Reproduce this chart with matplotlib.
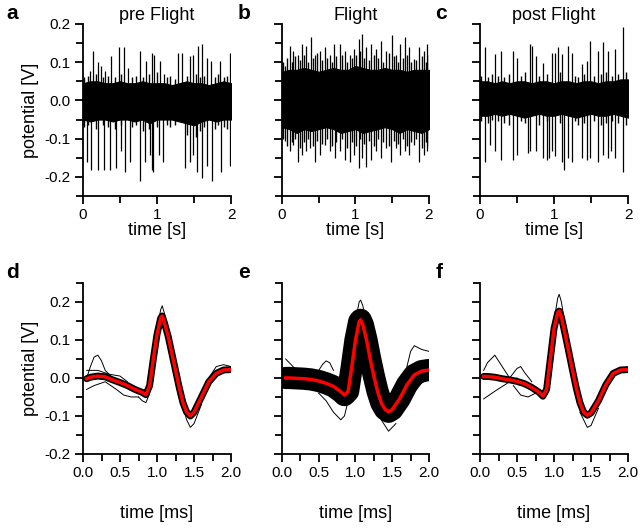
import matplotlib
matplotlib.use('Agg')
import matplotlib.pyplot as plt
from matplotlib.ticker import FixedLocator

plt.rcParams['font.family'] = ['Liberation Sans', 'DejaVu Sans']

# ---- raw traces: noise band envelope (every 0.1 s) + spike tips ----
env_t = [0.0, 0.1, 0.2, 0.3, 0.4, 0.5, 0.6, 0.7, 0.8, 0.9, 1.0,
         1.1, 1.2, 1.3, 1.4, 1.5, 1.6, 1.7, 1.8, 1.9, 2.0]

a_upper = [0.045, 0.05, 0.05, 0.045, 0.045, 0.05, 0.045, 0.045, 0.05, 0.045, 0.045,
           0.045, 0.04, 0.045, 0.05, 0.045, 0.045, 0.04, 0.045, 0.05, 0.045]
a_lower = [-0.05, -0.055, -0.05, -0.05, -0.055, -0.05, -0.05, -0.055, -0.05, -0.06, -0.05,
           -0.05, -0.05, -0.055, -0.06, -0.065, -0.055, -0.05, -0.055, -0.05, -0.05]
a_up_t = [0.095, 0.14, 0.20, 0.24, 0.30, 0.38, 0.48, 0.55, 0.61, 0.77, 0.85, 0.93, 0.96,
          1.04, 1.09, 1.29, 1.34, 1.45, 1.49, 1.56, 1.61, 1.67, 1.73, 1.85, 1.99]
a_up_v = [0.077, 0.13, 0.10, 0.09, 0.077, 0.117, 0.139, 0.139, 0.086, 0.13, 0.104, 0.125, 0.12,
          0.104, 0.068, 0.125, 0.125, 0.117, 0.12, 0.143, 0.147, 0.112, 0.104, 0.104, 0.125]
a_dn_t = [0.05, 0.11, 0.20, 0.29, 0.37, 0.45, 0.52, 0.57, 0.635, 0.77, 0.84, 0.905, 0.937,
          0.95, 1.02, 1.085, 1.38, 1.45, 1.49, 1.54, 1.61, 1.67, 1.74, 1.87, 1.99]
a_dn_v = [-0.16, -0.182, -0.182, -0.182, -0.182, -0.177, -0.133, -0.186, -0.16, -0.212, -0.16,
          -0.142, -0.182, -0.186, -0.142, -0.16, -0.177, -0.16, -0.142, -0.186, -0.204, -0.172,
          -0.212, -0.186, -0.172]
# small noise excursions just above / below the band
a_small_t = [0.02, 0.07, 0.17, 0.27, 0.34, 0.43, 0.51, 0.66, 0.72, 0.81, 0.89, 1.0, 1.13,
             1.18, 1.24, 1.4, 1.52, 1.58, 1.64, 1.78, 1.82, 1.91, 1.95]
a_small_up = [0.06, 0.065, 0.07, 0.06, 0.065, 0.06, 0.07, 0.06, 0.065, 0.06, 0.07, 0.075, 0.06,
              0.065, 0.055, 0.065, 0.07, 0.06, 0.065, 0.06, 0.07, 0.06, 0.065]
a_small_dn = [-0.07, -0.065, -0.075, -0.065, -0.07, -0.075, -0.065, -0.07, -0.065, -0.08, -0.075,
              -0.07, -0.065, -0.07, -0.065, -0.09, -0.095, -0.08, -0.07, -0.075, -0.065, -0.07,
              -0.075]

b_upper = [0.075, 0.08, 0.08, 0.085, 0.08, 0.075, 0.08, 0.085, 0.08, 0.08, 0.09,
           0.085, 0.08, 0.08, 0.085, 0.08, 0.08, 0.075, 0.08, 0.08, 0.08]
b_lower = [-0.07, -0.075, -0.085, -0.075, -0.08, -0.075, -0.07, -0.075, -0.085, -0.08, -0.075,
           -0.085, -0.08, -0.075, -0.07, -0.075, -0.085, -0.075, -0.08, -0.085, -0.075]
b_up_t = [0.04, 0.108, 0.153, 0.212, 0.266, 0.333, 0.392, 0.446, 0.514, 0.581, 0.649, 0.707,
          0.784, 0.851, 0.919, 0.986, 1.041, 1.086, 1.144, 1.212, 1.279, 1.347, 1.414, 1.491,
          1.55, 1.608, 1.671, 1.73, 1.797, 1.865, 1.932, 1.977]
b_up_v = [0.09, 0.143, 0.13, 0.12, 0.147, 0.143, 0.165, 0.12, 0.13, 0.139, 0.12, 0.147,
          0.147, 0.13, 0.12, 0.134, 0.16, 0.175, 0.139, 0.147, 0.134, 0.156, 0.13, 0.17,
          0.12, 0.147, 0.165, 0.139, 0.109, 0.139, 0.13, 0.147]
b_dn_t = [0.04, 0.108, 0.153, 0.212, 0.266, 0.333, 0.378, 0.446, 0.514, 0.581, 0.649, 0.716,
          0.784, 0.851, 0.919, 0.986, 1.041, 1.086, 1.144, 1.212, 1.279, 1.347, 1.414, 1.482,
          1.55, 1.608, 1.671, 1.73, 1.797, 1.865, 1.932, 1.977]
b_dn_v = [-0.107, -0.133, -0.116, -0.16, -0.142, -0.133, -0.124, -0.16, -0.142, -0.116, -0.133,
          -0.151, -0.133, -0.155, -0.16, -0.142, -0.177, -0.151, -0.173, -0.155, -0.133, -0.151,
          -0.124, -0.16, -0.124, -0.142, -0.133, -0.142, -0.116, -0.16, -0.142, -0.133]
b_small_t = [0.01, 0.07, 0.13, 0.18, 0.24, 0.3, 0.36, 0.42, 0.48, 0.55, 0.61, 0.68, 0.74,
             0.82, 0.88, 0.95, 1.01, 1.06, 1.12, 1.18, 1.25, 1.31, 1.38, 1.45, 1.52, 1.58,
             1.64, 1.7, 1.76, 1.83, 1.9, 1.96, 1.995]
b_small_up = [0.1, 0.11, 0.1, 0.115, 0.105, 0.12, 0.1, 0.11, 0.125, 0.105, 0.11, 0.1, 0.115,
              0.12, 0.1, 0.11, 0.12, 0.13, 0.11, 0.105, 0.12, 0.11, 0.1, 0.125, 0.115, 0.1,
              0.11, 0.12, 0.1, 0.105, 0.115, 0.1, 0.12]
b_small_dn = [-0.1, -0.12, -0.11, -0.1, -0.125, -0.11, -0.1, -0.12, -0.105, -0.115, -0.1, -0.12,
              -0.11, -0.1, -0.125, -0.11, -0.12, -0.1, -0.115, -0.105, -0.12, -0.1, -0.11, -0.12,
              -0.105, -0.115, -0.1, -0.12, -0.11, -0.1, -0.125, -0.11, -0.12]

c_upper = [0.05, 0.05, 0.045, 0.05, 0.045, 0.05, 0.05, 0.045, 0.05, 0.05, 0.045,
           0.05, 0.05, 0.045, 0.05, 0.05, 0.045, 0.05, 0.05, 0.055, 0.055]
c_lower = [-0.04, -0.04, -0.035, -0.04, -0.035, -0.04, -0.045, -0.04, -0.035, -0.04, -0.04,
           -0.035, -0.04, -0.045, -0.04, -0.035, -0.04, -0.04, -0.035, -0.04, -0.045]
c_up_t = [0.068, 0.203, 0.284, 0.45, 0.495, 0.676, 0.707, 0.757, 0.856, 0.968, 1.014, 1.05,
          1.104, 1.185, 1.239, 1.374, 1.441, 1.486, 1.59, 1.667, 1.734, 1.824, 1.937]
c_up_v = [0.139, 0.121, 0.13, 0.13, 0.112, 0.147, 0.143, 0.117, 0.099, 0.125, 0.125, 0.139,
          0.121, 0.143, 0.125, 0.095, 0.104, 0.156, 0.13, 0.152, 0.13, 0.134, 0.191]
c_dn_t = [0.068, 0.135, 0.203, 0.284, 0.45, 0.495, 0.653, 0.676, 0.757, 0.856, 0.9, 0.932,
          0.968, 1.014, 1.104, 1.14, 1.185, 1.239, 1.374, 1.441, 1.486, 1.59, 1.667, 1.725,
          1.77, 1.824, 1.937]
c_dn_v = [-0.16, -0.116, -0.133, -0.155, -0.155, -0.142, -0.138, -0.133, -0.133, -0.151, -0.155,
          -0.151, -0.133, -0.146, -0.16, -0.182, -0.151, -0.16, -0.151, -0.155, -0.151, -0.16,
          -0.142, -0.151, -0.133, -0.151, -0.186]
c_small_t = [0.02, 0.11, 0.16, 0.24, 0.33, 0.39, 0.55, 0.61, 0.8, 0.9, 1.08, 1.29, 1.33,
             1.41, 1.54, 1.63, 1.7, 1.79, 1.87, 1.97]
c_small_up = [0.065, 0.06, 0.07, 0.065, 0.06, 0.07, 0.065, 0.075, 0.065, 0.07, 0.075, 0.065,
              0.06, 0.07, 0.065, 0.07, 0.075, 0.065, 0.07, 0.075]
c_small_dn = [-0.055, -0.06, -0.05, -0.055, -0.06, -0.065, -0.055, -0.06, -0.065, -0.055, -0.06,
              -0.055, -0.065, -0.06, -0.055, -0.065, -0.06, -0.055, -0.06, -0.065]

# ---- spike waveforms (ms) ----
wf_t = [0.05, 0.1, 0.2, 0.3, 0.4, 0.5, 0.6, 0.7, 0.8, 0.85, 0.9, 0.95, 1.0, 1.05, 1.07,
        1.1, 1.15, 1.2, 1.25, 1.3, 1.35, 1.4, 1.45, 1.5, 1.6, 1.7, 1.8, 1.9, 2.0]
d_mean = [-0.002, 0.002, 0.005, 0.003, -0.005, -0.012, -0.02, -0.03, -0.038, -0.044, -0.02, 0.05,
          0.115, 0.158, 0.163, 0.145, 0.11, 0.065, 0.02, -0.025, -0.065, -0.09, -0.1, -0.09,
          -0.05, -0.01, 0.012, 0.021, 0.022]
e_mean = [0.0, 0.0, -0.001, -0.002, -0.004, -0.008, -0.014, -0.022, -0.036, -0.045, -0.035, 0.03,
          0.1, 0.148, 0.153, 0.14, 0.1, 0.05, 0.005, -0.035, -0.065, -0.082, -0.089, -0.083,
          -0.055, -0.018, 0.008, 0.018, 0.021]
f_mean = [0.004, 0.004, 0.002, -0.002, -0.005, -0.009, -0.015, -0.025, -0.038, -0.048, -0.03, 0.05,
          0.13, 0.172, 0.176, 0.16, 0.115, 0.068, 0.02, -0.026, -0.065, -0.09, -0.098, -0.092,
          -0.06, -0.018, 0.012, 0.021, 0.022]

# single stray sweeps that stick out of the bundle: (times, values)
d_stray = [([0.05, 0.1, 0.15, 0.2, 0.25, 0.3, 0.4], [0.0, 0.03, 0.055, 0.06, 0.045, 0.02, 0.0]),
           ([0.05, 0.15, 0.3, 0.45, 0.55, 0.65, 0.75], [-0.03, -0.02, -0.01, -0.03, -0.045, -0.05, -0.05]),
           ([0.05, 0.2, 0.35, 0.5, 0.6], [0.02, 0.02, 0.01, 0.005, -0.01]),
           ([1.0, 1.05, 1.07, 1.1, 1.15], [0.13, 0.18, 0.19, 0.17, 0.12]),
           ([1.3, 1.4, 1.45, 1.5, 1.6], [-0.04, -0.11, -0.13, -0.12, -0.07]),
           ([0.75, 0.8, 0.85, 0.9], [-0.05, -0.06, -0.065, -0.04]),
           ([1.7, 1.8, 1.9, 2.0], [0.0, 0.03, 0.035, 0.03])]
e_stray = [([0.05, 0.1, 0.2, 0.3], [0.05, 0.04, 0.02, 0.01]),
           ([0.5, 0.6, 0.7, 0.8, 0.85, 0.9], [-0.04, -0.06, -0.09, -0.11, -0.1, -0.06]),
           ([0.5, 0.55, 0.6, 0.65, 0.7], [0.02, 0.035, 0.045, 0.04, 0.02]),
           ([1.0, 1.05, 1.07, 1.1, 1.15], [0.15, 0.2, 0.205, 0.19, 0.14]),
           ([1.35, 1.45, 1.55], [-0.11, -0.14, -0.12]),
           ([1.7, 1.75, 1.8, 1.85, 1.9, 2.0], [0.03, 0.07, 0.085, 0.08, 0.075, 0.07])]
f_stray = [([0.05, 0.1, 0.2, 0.3, 0.4], [0.02, 0.04, 0.06, 0.03, 0.0]),
           ([0.05, 0.2, 0.4, 0.5], [-0.055, -0.035, -0.01, 0.0]),
           ([0.4, 0.5, 0.55, 0.6, 0.7], [0.0, 0.025, 0.03, 0.015, -0.01]),
           ([0.45, 0.55, 0.65, 0.75], [-0.02, -0.045, -0.05, -0.04]),
           ([1.0, 1.05, 1.07, 1.1, 1.15], [0.15, 0.21, 0.22, 0.2, 0.14]),
           ([1.35, 1.45, 1.5, 1.6], [-0.09, -0.13, -0.125, -0.08])]

titles = ['pre Flight', 'Flight', 'post Flight']
letters = ['a', 'b', 'c', 'd', 'e', 'f']

fig = plt.figure(figsize=(6.4, 5.28), dpi=100)
lefts = [0.1297, 0.4406, 0.75]
widths = [0.2313, 0.2297, 0.2313]


def style(ax):
    for s in ['top', 'right']:
        ax.spines[s].set_visible(False)
    for s in ['left', 'bottom']:
        ax.spines[s].set_linewidth(1.3)
    ax.tick_params(which='major', direction='out', length=5.5, width=1.3, labelsize=11)
    ax.tick_params(which='minor', direction='out', length=5, width=1.3)


raw = [(a_upper, a_lower, a_up_t, a_up_v, a_dn_t, a_dn_v, a_small_t, a_small_up, a_small_dn),
       (b_upper, b_lower, b_up_t, b_up_v, b_dn_t, b_dn_v, b_small_t, b_small_up, b_small_dn),
       (c_upper, c_lower, c_up_t, c_up_v, c_dn_t, c_dn_v, c_small_t, c_small_up, c_small_dn)]

for i, (up, lo, ut, uv, dt, dv, st, su, sd) in enumerate(raw):
    ax = fig.add_axes([lefts[i], 0.6288, widths[i], 0.3258])
    ax.fill_between(env_t, lo, up, color='black', lw=0.8)
    ax.vlines(st, sd, su, color='black', lw=1.0)
    ax.vlines(ut, 0, uv, color='black', lw=0.9)
    ax.vlines(dt, dv, 0, color='black', lw=0.9)
    ax.set_xlim(0, 2)
    ax.set_ylim(-0.25, 0.2)
    ax.xaxis.set_major_locator(FixedLocator([0, 1, 2]))
    ax.xaxis.set_minor_locator(FixedLocator([0.5, 1.5]))
    ax.yaxis.set_major_locator(FixedLocator([-0.2, -0.1, 0.0, 0.1, 0.2]))
    ax.yaxis.set_minor_locator(FixedLocator([-0.25, -0.15, -0.05, 0.05, 0.15]))
    style(ax)
    ax.set_xticklabels(['0', '1', '2'])
    if i == 0:
        ax.set_yticklabels(['-0.2', '-0.1', '0.0', '0.1', '0.2'])
        ax.set_ylabel('potential [V]', fontsize=13, labelpad=4)
    else:
        ax.set_yticklabels([])
    ax.set_xlabel('time [s]', fontsize=13, labelpad=0)
    ax.set_title(titles[i], fontsize=13, pad=2)
    ax.text(-0.52 if i == 0 else -0.3, 1.06, letters[i], transform=ax.transAxes,
            fontsize=15, fontweight='bold', va='center')

waves = [(d_mean, d_stray, 5), (e_mean, e_stray, 16), (f_mean, f_stray, 5)]
for i, (mean, stray, bw) in enumerate(waves):
    ax = fig.add_axes([lefts[i], 0.1402, widths[i], 0.3239])
    ax.plot(wf_t, mean, color='black', lw=bw, solid_joinstyle='round', solid_capstyle='round')
    for st, sv in stray:
        ax.plot(st, sv, color='black', lw=0.7)
    ax.plot(wf_t, mean, color='red', lw=2.5, solid_joinstyle='round')
    ax.set_xlim(0, 2)
    ax.set_ylim(-0.2, 0.25)
    ax.xaxis.set_major_locator(FixedLocator([0.0, 0.5, 1.0, 1.5, 2.0]))
    ax.xaxis.set_minor_locator(FixedLocator([0.25, 0.75, 1.25, 1.75]))
    ax.yaxis.set_major_locator(FixedLocator([-0.2, -0.1, 0.0, 0.1, 0.2]))
    ax.yaxis.set_minor_locator(FixedLocator([-0.15, -0.05, 0.05, 0.15, 0.25]))
    style(ax)
    ax.set_xticklabels(['0.0', '0.5', '1.0', '1.5', '2.0'])
    if i == 0:
        ax.set_yticklabels(['-0.2', '-0.1', '0.0', '0.1', '0.2'])
        ax.set_ylabel('potential [V]', fontsize=13, labelpad=4)
    else:
        ax.set_yticklabels([])
    ax.set_xlabel('time [ms]', fontsize=13, labelpad=18)
    ax.text(-0.52 if i == 0 else -0.3, 1.06, letters[i + 3], transform=ax.transAxes,
            fontsize=15, fontweight='bold', va='center')

fig.savefig('out.png', dpi=100)
